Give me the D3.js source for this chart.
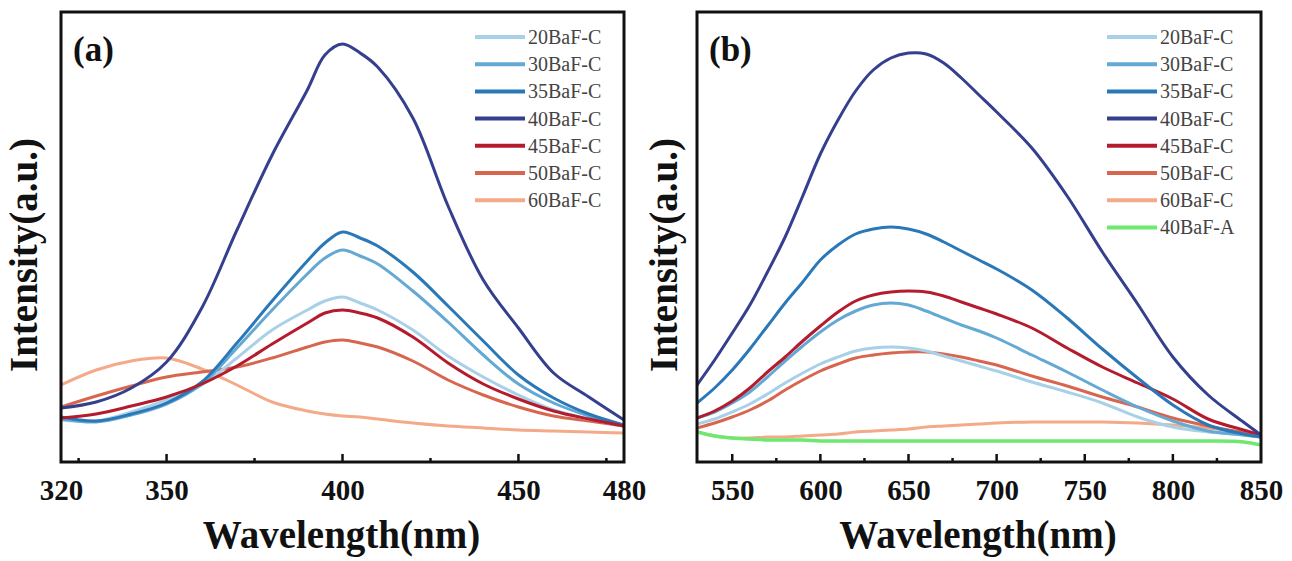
<!DOCTYPE html>
<html><head><meta charset="utf-8">
<script src="https://cdn.jsdelivr.net/npm/d3@7"></script>
<style>body{margin:0;background:#fff}svg{display:block}</style>
</head><body>
<svg id="c" width="1292" height="561"></svg>
<script>
// ---------- DATA ----------
const seriesNamesA = ["20BaF-C","30BaF-C","35BaF-C","40BaF-C","45BaF-C","50BaF-C","60BaF-C"];
const seriesNamesB = ["20BaF-C","30BaF-C","35BaF-C","40BaF-C","45BaF-C","50BaF-C","60BaF-C","40BaF-A"];
const seriesColors = {"20BaF-C":"#a8d1e7","30BaF-C":"#63a9d3","35BaF-C":"#2a78b8","40BaF-C":"#343f8e",
  "45BaF-C":"#b41c2e","50BaF-C":"#d8664f","60BaF-C":"#f4aa88","40BaF-A":"#6fe86f"};

// panel (a): excitation-range spectra
const wavelengthA = [320,330,340,350,360,370,380,390,395,400,405,410,420,430,440,450,460,470,480];
const a20 = [42,41,50,62,77,104,132,152,161,165,159,152,132,106,85,67,52,43,36];
const a30 = [43,40,47,58,78,114,152,188,204,212,206,198,171,140,107,78,59,46,36];
const a35 = [45,41,48,59,80,119,161,201,219,230,224,216,190,156,121,87,64,48,37];
const a40 = [54,60,74,100,154,232,307,372,407,418,409,395,344,256,182,134,89,65,42];
const a45 = [44,48,56,65,78,96,118,139,149,152,149,144,125,99,78,63,51,43,36];
const a50 = [55,66,76,85,90,95,104,115,120,122,119,115,101,82,67,55,46,41,36];
const a60 = [77,92,101,104,93,77,60,51,48,46,45,43,39,36,34,32,31,30,29];

// panel (b): emission-range spectra
const wavelengthB = [530,540,550,560,570,580,590,600,610,620,630,640,650,660,670,680,690,700,720,740,760,780,800,820,840,850];
const b20 = [38,43,50,58,68,79,89,98,105,111,114,115,114,111,106,101,96,91,80,70,59,45,35,30,27,25];
const b30 = [44,50,59,70,85,101,116,130,142,151,157,159,157,151,144,137,131,124,107,90,72,55,41,31,27,25];
const b35 = [59,74,92,113,136,159,180,202,217,228,233,235,233,228,220,211,202,193,172,144,113,84,57,37,28,25];
const b40 = [77,102,129,157,190,225,266,308,342,371,392,404,409,408,399,384,367,350,314,266,210,158,105,67,40,27];
const b45 = [44,51,61,74,90,105,121,136,150,161,167,170,171,170,166,160,154,148,134,114,95,79,63,43,32,27];
const b50 = [34,39,45,52,61,72,82,91,98,104,107,109,110,110,108,105,101,97,86,76,65,55,44,36,29,25];
const b60 = [30,26,24,24,25,25,26,27,28,30,31,32,33,35,36,37,38,39,40,40,40,39,37,34,30,28];
const b40A = [30,26,24,23,22,22,22,21,21,21,21,21,21,21,21,21,21,21,21,21,21,21,21,21,20,17];

const ticksA = [320,350,400,450,480];
const minorA = [325,375,425,475];
const ticksB = [550,600,650,700,750,800,850];
const minorB = [575,625,675,725,775,825];

const dataA = {"20BaF-C":a20,"30BaF-C":a30,"35BaF-C":a35,"40BaF-C":a40,"45BaF-C":a45,"50BaF-C":a50,"60BaF-C":a60};
const dataB = {"20BaF-C":b20,"30BaF-C":b30,"35BaF-C":b35,"40BaF-C":b40,"45BaF-C":b45,"50BaF-C":b50,"60BaF-C":b60,"40BaF-A":b40A};

// ---------- DRAW ----------
const svg = d3.select("#c");
const serif = "'Liberation Serif','Times New Roman',serif";

function panel(cfg){
  const g = svg.append("g");
  const x = d3.scaleLinear().domain(cfg.domain).range([cfg.left, cfg.right]);
  const y = d3.scaleLinear().domain([0,450]).range([cfg.bottom, cfg.top]);

  const clipId = "clip" + cfg.tag;
  svg.append("defs").append("clipPath").attr("id", clipId)
    .append("rect").attr("x", cfg.left).attr("y", cfg.top)
    .attr("width", cfg.right-cfg.left).attr("height", cfg.bottom-cfg.top);

  const line = d3.line().x((d,i)=>x(cfg.wl[i])).y(d=>y(d)).curve(d3.curveCatmullRom.alpha(0.5));
  const lines = g.append("g").attr("clip-path", `url(#${clipId})`);
  cfg.order.forEach(name=>{
    lines.append("path").attr("d", line(cfg.data[name]))
      .attr("fill","none").attr("stroke", seriesColors[name])
      .attr("stroke-width", name==="40BaF-A" ? 3.5 : 3).attr("stroke-linejoin","round");
  });

  // frame
  g.append("rect").attr("x", cfg.left).attr("y", cfg.top)
    .attr("width", cfg.right-cfg.left).attr("height", cfg.bottom-cfg.top)
    .attr("fill","none").attr("stroke","#111").attr("stroke-width",3);

  // bottom axis, inward ticks
  const ax = d3.axisBottom(x).tickValues(cfg.ticks).tickSize(0).tickPadding(0).tickFormat(d3.format("d"));
  const axg = g.append("g").attr("transform", `translate(0,${cfg.bottom})`).call(ax);
  axg.select(".domain").remove();
  axg.selectAll("text").attr("y", 38).attr("dy", null)
    .attr("font-family", serif).attr("font-weight","bold").attr("font-size", 29).attr("fill","#111");
  g.append("g").selectAll("line").data(cfg.ticks.filter(t=>t>cfg.domain[0] && t<cfg.domain[1])).join("line")
    .attr("x1", d=>x(d)).attr("x2", d=>x(d)).attr("y1", cfg.bottom).attr("y2", cfg.bottom-8)
    .attr("stroke","#111").attr("stroke-width",2.5);
  g.append("g").selectAll("line").data(cfg.minor).join("line")
    .attr("x1", d=>x(d)).attr("x2", d=>x(d)).attr("y1", cfg.bottom).attr("y2", cfg.bottom-4)
    .attr("stroke","#111").attr("stroke-width",2.5);

  // titles
  g.append("text").attr("x", (cfg.left+cfg.right)/2 - 1).attr("y", 548)
    .attr("text-anchor","middle").attr("font-family", serif).attr("font-weight","bold")
    .attr("font-size", 39).attr("fill","#111").text("Wavelength(nm)");
  g.append("text").attr("transform", `translate(${cfg.ylabX},255) rotate(-90)`)
    .attr("text-anchor","middle").attr("font-family", serif).attr("font-weight","bold")
    .attr("font-size", 39).attr("fill","#111").text("Intensity(a.u.)");
  g.append("text").attr("x", cfg.left+12).attr("y", 61)
    .attr("font-family", serif).attr("font-weight","bold").attr("font-size", 35)
    .attr("fill","#111").text(cfg.label);

  // legend
  const lg = g.append("g");
  cfg.names.forEach((name,i)=>{
    const yy = 37 + i*27.2;
    lg.append("line").attr("x1", cfg.legX).attr("x2", cfg.legX+50).attr("y1", yy).attr("y2", yy)
      .attr("stroke", seriesColors[name]).attr("stroke-width", 4);
    lg.append("text").attr("x", cfg.legX+53).attr("y", yy).attr("dy","0.35em")
      .attr("font-family", serif).attr("font-size", 20).attr("fill","#444").text(name);
  });
}

panel({tag:"a", domain:[320,480], left:61, right:624, top:12, bottom:462,
  wl: wavelengthA, data: dataA, names: seriesNamesA, ticks: ticksA, minor: minorA,
  order: ["60BaF-C","50BaF-C","20BaF-C","30BaF-C","35BaF-C","45BaF-C","40BaF-C"],
  ylabX: 37, legX: 475, label: "(a)"});

panel({tag:"b", domain:[530,850], left:697, right:1261, top:12, bottom:462,
  wl: wavelengthB, data: dataB, names: seriesNamesB, ticks: ticksB, minor: minorB,
  order: ["60BaF-C","40BaF-A","50BaF-C","20BaF-C","30BaF-C","45BaF-C","35BaF-C","40BaF-C"],
  ylabX: 677, legX: 1107, label: "(b)"});
</script>
</body></html>
